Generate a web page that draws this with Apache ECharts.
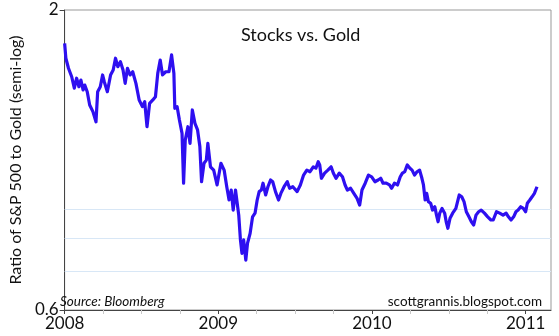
<!DOCTYPE html>
<html><head><meta charset="utf-8">
<script src="https://cdn.jsdelivr.net/npm/echarts@6/dist/echarts.min.js"></script>
<style>html,body{margin:0;padding:0;background:#fff}#c{width:559px;height:336px}</style>
</head><body><div id="c"></div>
<script>
const years = [
2008.000,2008.008,2008.025,2008.046,2008.063,2008.078,2008.093,2008.106,2008.120,2008.131,
2008.147,2008.163,2008.184,2008.204,2008.215,2008.232,2008.247,2008.258,2008.278,2008.299,
2008.316,2008.331,2008.346,2008.363,2008.380,2008.394,2008.409,2008.426,2008.443,2008.464,
2008.485,2008.506,2008.521,2008.536,2008.553,2008.574,2008.591,2008.606,2008.622,2008.637,
2008.658,2008.679,2008.696,2008.711,2008.717,2008.732,2008.747,2008.764,2008.774,2008.785,
2008.802,2008.816,2008.831,2008.848,2008.865,2008.880,2008.891,2008.907,2008.922,2008.932,
2008.949,2008.970,2008.992,2009.017,2009.038,2009.055,2009.070,2009.084,2009.097,2009.112,
2009.133,2009.144,2009.154,2009.165,2009.179,2009.190,2009.207,2009.223,2009.239,2009.253,
2009.266,2009.280,2009.291,2009.308,2009.323,2009.340,2009.354,2009.372,2009.392,2009.407,
2009.428,2009.449,2009.464,2009.485,2009.513,2009.534,2009.555,2009.576,2009.597,2009.618,
2009.635,2009.650,2009.660,2009.671,2009.692,2009.713,2009.734,2009.749,2009.766,2009.787,
2009.808,2009.825,2009.840,2009.861,2009.882,2009.903,2009.920,2009.935,2009.956,2009.977,
2009.998,2010.019,2010.040,2010.057,2010.072,2010.093,2010.114,2010.128,2010.146,2010.166,
2010.184,2010.198,2010.213,2010.230,2010.247,2010.261,2010.277,2010.293,2010.310,2010.325,
2010.335,2010.346,2010.356,2010.367,2010.382,2010.394,2010.409,2010.420,2010.430,2010.441,
2010.456,2010.473,2010.483,2010.494,2010.508,2010.525,2010.546,2010.568,2010.584,2010.599,
2010.614,2010.631,2010.647,2010.662,2010.677,2010.694,2010.711,2010.732,2010.753,2010.774,
2010.789,2010.810,2010.831,2010.853,2010.873,2010.888,2010.905,2010.922,2010.937,2010.951,
2010.968,2010.985,2011.000,2011.011,2011.027,2011.042,2011.057,2011.074
];
const ratio = [
1.750,1.648,1.583,1.530,1.461,1.521,1.470,1.510,1.451,1.480,
1.441,1.366,1.330,1.277,1.441,1.470,1.541,1.500,1.441,1.541,
1.572,1.648,1.593,1.625,1.572,1.490,1.583,1.541,1.561,1.490,
1.394,1.357,1.384,1.252,1.375,1.394,1.412,1.551,1.636,1.541,
1.561,1.561,1.670,1.551,1.348,1.357,1.286,1.219,0.998,1.187,
1.252,1.171,1.339,1.269,1.236,1.156,1.004,1.081,1.095,1.171,
1.066,1.052,0.991,1.081,1.052,0.984,0.933,0.971,0.896,0.971,
0.878,0.795,0.753,0.795,0.733,0.784,0.816,0.872,0.885,0.933,
0.965,0.971,0.998,0.952,0.984,1.011,1.004,0.965,0.933,0.958,
0.984,1.004,0.978,0.984,0.965,0.991,1.031,1.052,1.045,1.066,
1.060,1.088,1.074,1.018,1.039,1.052,1.066,1.039,1.018,1.039,
1.024,0.991,0.971,0.978,0.958,0.939,0.914,0.971,0.998,1.031,
1.024,1.004,1.011,1.018,0.998,0.998,0.991,0.978,0.998,0.991,
1.024,1.039,1.045,1.074,1.060,1.052,1.031,1.045,1.052,1.018,
0.991,0.933,0.958,0.927,0.921,0.896,0.908,0.878,0.855,0.885,
0.902,0.885,0.855,0.833,0.867,0.885,0.902,0.952,0.945,0.927,
0.890,0.872,0.855,0.844,0.878,0.890,0.896,0.885,0.872,0.861,
0.861,0.890,0.885,0.878,0.885,0.872,0.861,0.872,0.890,0.896,
0.908,0.902,0.890,0.921,0.933,0.945,0.958,0.984
];
const yearTicks = [2008, 2009, 2010, 2011];
const quarterTicks = [2008.25, 2008.5, 2008.75, 2009.25, 2009.5, 2009.75, 2010.25, 2010.5, 2010.75];
const yLabelValues = [0.6, 2];
const gridValues = [0.7, 0.8, 0.9];

const FONT = 'Lato';
const chart = echarts.init(document.getElementById('c'), null, {renderer: 'canvas'});
const seriesData = years.map((y, i) => [y, ratio[i]]);
chart.setOption({
  animation: false,
  backgroundColor: '#fff',
  textStyle: {fontFamily: FONT},
  title: [
    {text: 'Stocks vs. Gold', left: 236, top: 21,
     textStyle: {fontFamily: FONT, fontSize: 18, fontWeight: 'normal', color: '#111'}},
    {text: 'Source: Bloomberg', left: 55, top: 290,
     textStyle: {fontFamily: FONT, fontSize: 13.5, fontStyle: 'italic', fontWeight: 'normal', color: '#111'}},
    {text: 'scottgrannis.blogspot.com', right: 12, top: 290,
     textStyle: {fontFamily: FONT, fontSize: 13.5, fontWeight: 'normal', color: '#111'}}
  ],
  grid: {left: 51, right: 8, top: 10, bottom: 26, show: true, borderColor: '#999', borderWidth: 1, backgroundColor: 'transparent'},
  xAxis: [{
    type: 'value', min: 2008, max: 2011.165,
    axisLine: {show: true, lineStyle: {color: '#444', width: 1}},
    axisTick: {show: true, customValues: yearTicks, length: 4, lineStyle: {color: '#444'}},
    axisLabel: {customValues: yearTicks, formatter: v => String(Math.round(v)), fontSize: 17, color: '#111', margin: 5, fontFamily: FONT},
    splitLine: {show: false}
  }, {
    type: 'value', min: 2008, max: 2011.165, position: 'bottom',
    axisLine: {show: false},
    axisTick: {show: true, customValues: quarterTicks, length: 4, lineStyle: {color: '#c8c8c8'}},
    axisLabel: {show: false},
    splitLine: {show: false}
  }],
  yAxis: {
    type: 'log', logBase: 10, min: 0.6, max: 2,
    name: 'Ratio of S&P 500 to Gold (semi-log)', nameLocation: 'middle', nameGap: 34,
    nameTextStyle: {fontFamily: FONT, fontSize: 16, color: '#111'},
    axisLine: {show: true, lineStyle: {color: '#444', width: 1}},
    axisTick: {show: true, customValues: yLabelValues, length: 5, lineStyle: {color: '#444'}},
    axisLabel: {customValues: yLabelValues, formatter: v => String(v), fontSize: 17, color: '#111', margin: 6, fontFamily: FONT},
    splitLine: {show: false},
    minorTick: {show: false}
  },
  series: [{
    type: 'line', data: [], z: 1, silent: true,
    markLine: {
      silent: true, z: 1, symbol: ['none', 'none'], label: {show: false},
      lineStyle: {color: '#d8e7f6', type: 'solid', width: 1},
      data: gridValues.map(v => ({yAxis: v}))
    }
  }, {
    type: 'line', data: seriesData, z: 6, showSymbol: false, symbol: 'none',
    lineStyle: {color: '#2e0ff0', width: 3.2, join: 'round'}
  }]
});
</script></body></html>
